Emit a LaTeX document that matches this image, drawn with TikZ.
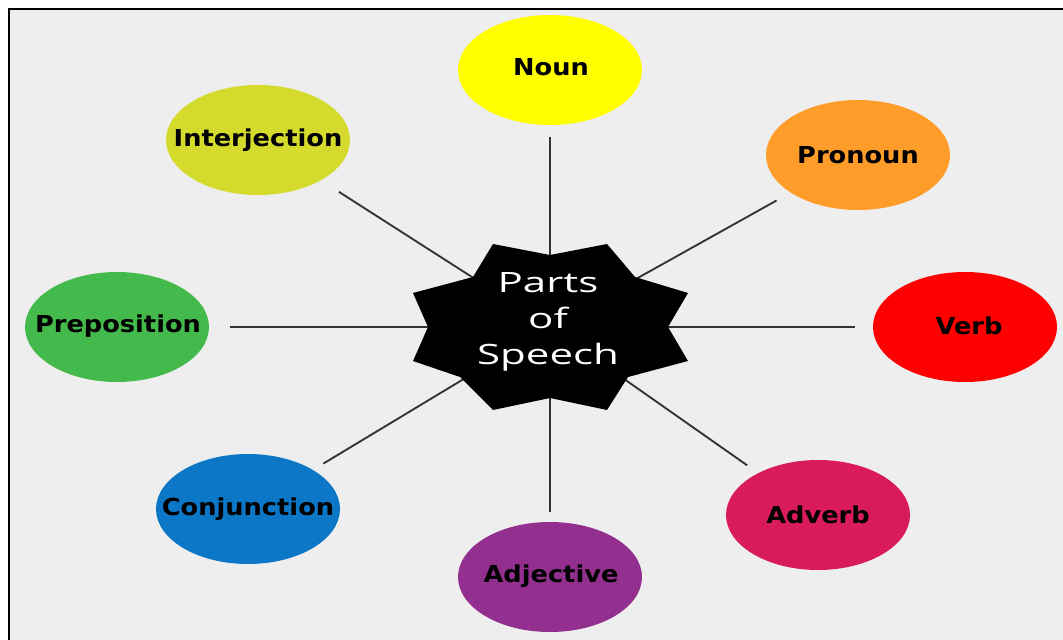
\documentclass[tikz,border=0pt]{standalone}
\usepackage{fontspec}
\usetikzlibrary{shapes.geometric}
\newfontfamily\labfont[FakeStretch=1.1]{DejaVu Sans}
\newfontfamily\ctrfont[FakeStretch=1.5]{Open Sans}
\definecolor{bggray}{HTML}{EEEEEE}
\definecolor{cnoun}{HTML}{FFFF00}
\definecolor{cinterj}{HTML}{D5DB2D}
\definecolor{cpronoun}{HTML}{FF9C2A}
\definecolor{cverb}{HTML}{FF0000}
\definecolor{cadverb}{HTML}{D91A5C}
\definecolor{cadj}{HTML}{93308F}
\definecolor{cconj}{HTML}{0B77C6}
\definecolor{cprep}{HTML}{45BA4C}
\definecolor{spokegray}{HTML}{333333}
\begin{document}
\begin{tikzpicture}[x=0.75pt,y=-0.75pt,
  bubble/.style={ellipse,minimum width=138pt,minimum height=82.5pt,inner sep=0pt},
  lab/.style={font=\labfont\bfseries\fontsize{17.5}{20}\selectfont,text=black,inner sep=0pt},
  spoke/.style={draw=spokegray,line width=1.4pt}]
\clip (0,0) rectangle (1063,639);
\fill[white] (0,0) rectangle (1063,639);
\draw[fill=bggray,line width=1.8pt] (9,9) rectangle (1090,670);

\node[bubble,fill=cnoun]    (noun)   at (550,70)  {};
\node[bubble,fill=cinterj]  (interj) at (258,140) {};
\node[bubble,fill=cpronoun] (pron)   at (858,155) {};
\node[bubble,fill=cprep]    (prep)   at (117,327) {};
\node[bubble,fill=cverb]    (verb)   at (965,327) {};
\node[bubble,fill=cconj]    (conj)   at (248,509) {};
\node[bubble,fill=cadj]     (adj)    at (550,577) {};
\node[bubble,fill=cadverb]  (adv)    at (818,515) {};

\node[lab] (tnoun)   at (551,67)        {Noun};
\node[lab] (tinterj) at (interj.center) {Interjection};
\node[lab] (tpron)   at (pron.center)   {Pronoun};
\node[lab] (tprep)   at (118,326)       {Preposition};
\node[lab] (tverb)   at (969,326)       {Verb};
\node[lab] (tconj)   at (conj.center)   {Conjunction};
\node[lab] (tadj)    at (551,576)       {Adjective};
\node[lab] (tadv)    at (adv.center)    {Adverb};

\coordinate (c) at (550,327);
\draw[spoke,shorten >=9pt]    (c) -- (noun);
\draw[spoke,shorten >=12pt]   (c) -- (pron);
\draw[spoke,shorten >=13.5pt] (c) -- (verb);
\draw[spoke,shorten >=10pt]   (c) -- (adv);
\draw[spoke,shorten >=7.5pt]  (c) -- (adj);
\draw[spoke,shorten >=9pt]    (c) -- (conj);
\draw[spoke,shorten >=15.5pt] (c) -- (prep);
\draw[spoke,shorten >=16pt]   (c) -- (interj);

\fill[black] (493,244) -- (550,255) -- (607,244) -- (635,277) -- (688,293)
  -- (668,327) -- (688,361) -- (628,377) -- (607,410) -- (550,398)
  -- (493,410) -- (460,377) -- (413,361) -- (428,327) -- (413,293)
  -- (473,277) -- cycle;
\node[text=white,align=center,inner sep=0pt,
  font=\ctrfont\fontsize{21}{27}\selectfont] (ctr) at (548,322) {Parts\\of\\Speech};
\end{tikzpicture}
\end{document}
